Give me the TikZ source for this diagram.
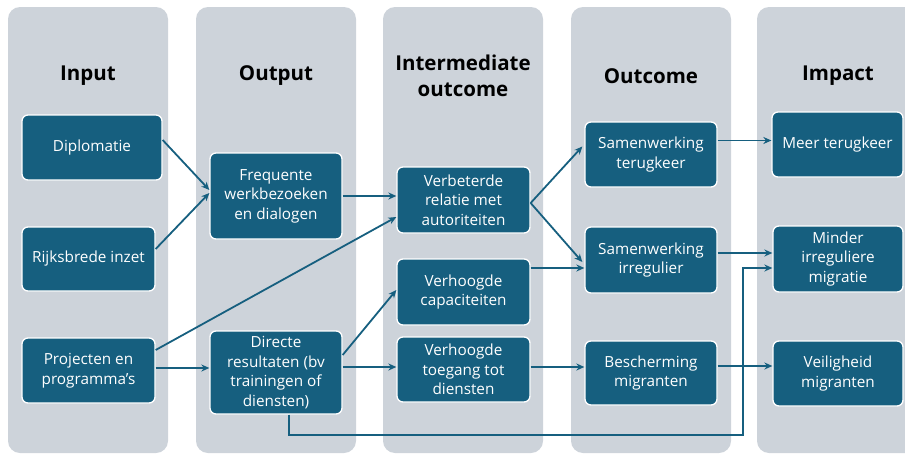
\documentclass[tikz,border=0pt]{standalone}
\usepackage{fontspec}
\setmainfont{Open Sans}
\usetikzlibrary{arrows.meta,calc}
\definecolor{boxblue}{HTML}{165F7F}
\definecolor{colgray}{HTML}{CDD3DA}
\begin{document}
\begin{tikzpicture}[x=1pt,y=-1pt,
  colbg/.style={fill=colgray,rounded corners=12pt,draw=none},
  head/.style={font=\fontsize{20.5}{26}\selectfont\bfseries,text=black,align=center},
  box/.style={fill=boxblue,draw=white,line width=1.3pt,rounded corners=6pt,text=white,
     align=center,font=\fontsize{15.3}{19.5}\selectfont,inner sep=0pt},
  arr/.style={draw=boxblue,line width=1.8pt,-{Stealth[length=8pt,width=7pt]}}]
\useasboundingbox (0,0) rectangle (905,455);
\begin{scope}
\clip (0,0) rectangle (905,455);
\fill[colbg] (8,7) rectangle (168,453);
\fill[colbg] (196,7) rectangle (356,453);
\fill[colbg] (383,7) rectangle (543,453);
\fill[colbg] (571,7) rectangle (731,453);
\fill[colbg] (757,7) rectangle (920,453);
\end{scope}
% headings
\node[head] (h1) at (88,76) {Input};
\node[head] (h2) at (276,76) {Output};
\node[head] (h3) at (463,76) {Intermediate\\outcome};
\node[head] (h4) at (651,76) {Outcome};
\node[head] (h5) at (838,76) {Impact};
% boxes
\node[box,minimum width=140pt,minimum height=65pt] (dipl) at (92,147.5) {Diplomatie};
\node[box,minimum width=133pt,minimum height=64pt] (rijk) at (88.5,259) {Rijksbrede inzet};
\node[box,minimum width=133pt,minimum height=65pt] (proj) at (88.5,370.5) {Projecten en\\programma’s};
\node[box,minimum width=132pt,minimum height=86pt] (freq) at (276,196) {Frequente\\werkbezoeken\\en dialogen};
\node[box,minimum width=132pt,minimum height=83pt] (dir) at (276,372.5) {Directe\\resultaten (bv\\trainingen of\\diensten)};
\node[box,minimum width=133pt,minimum height=66pt] (verb) at (463.5,200) {Verbeterde\\relatie met\\autoriteiten};
\node[box,minimum width=133pt,minimum height=66pt] (cap) at (463.5,292) {Verhoogde\\capaciteiten};
\node[box,minimum width=133pt,minimum height=65pt] (tog) at (463.5,369.5) {Verhoogde\\toegang tot\\diensten};
\node[box,minimum width=132pt,minimum height=65pt] (ter) at (651,154.5) {Samenwerking\\terugkeer};
\node[box,minimum width=132pt,minimum height=66pt] (irr) at (651,260) {Samenwerking\\irregulier};
\node[box,minimum width=132pt,minimum height=64pt] (besch) at (651,373) {Bescherming\\migranten};
\node[box,minimum width=131pt,minimum height=65pt] (meer) at (837.5,144.5) {Meer terugkeer};
\node[box,minimum width=130pt,minimum height=66pt] (minder) at (838,259) {Minder\\irreguliere\\migratie};
\node[box,minimum width=130pt,minimum height=65pt] (veil) at (838,373.5) {Veiligheid\\migranten};
% anchor points for connectors
\coordinate (bendA) at (743,435);
\coordinate (pP) at ($(proj.east)+(0,-2.5)$);
\coordinate (pD) at ($(dir.east)+(0,-5.5)$);
\coordinate (pC) at ($(cap.east)+(0,-24)$);
\coordinate (pT) at ($(ter.east)+(0,-14)$);
\coordinate (pI) at ($(irr.east)+(0,-7)$);
\coordinate (pG) at ($(tog.east)+(0,-2.5)$);
\coordinate (pB) at ($(besch.east)+(0,-7)$);
% connectors
\draw[arr] ($(dipl.east)+(0,-7.5)$) -- ($(freq.west)+(0,-6)$);
\draw[arr] ($(rijk.east)+(0,-10)$) -- ($(freq.west)+(0,-3)$);
\draw[arr] (freq.east) -- (freq.east -| verb.west);
\draw[arr] ($(proj.east)+(0,-20.5)$) -- ($(verb.west)+(0,17)$);
\draw[arr] (pP) -- (pP -| dir.west);
\draw[arr] ($(dir.east)+(0,-17.5)$) -- ($(cap.west)+(0,-2)$);
\draw[arr] (pD) -- (pD -| tog.west);
\draw[arr] ($(dir.south)+(13,0)$) |- (bendA) |- ($(minder.west)+(0,9)$);
\draw[arr] ($(verb.east)+(0,3)$) -- ($(ter.west)+(-2,-8)$);
\draw[arr] ($(verb.east)+(0,3)$) -- ($(irr.west)+(-2,2)$);
\draw[arr] (pC) -- (pC -| irr.west);
\draw[arr] (pT) -- (pT -| meer.west);
\draw[arr] (pI) -- (pI -| minder.west);
\draw[arr] (pG) -- (pG -| besch.west);
\draw[arr] (pB) -- (pB -| veil.west);
\end{tikzpicture}
\end{document}
